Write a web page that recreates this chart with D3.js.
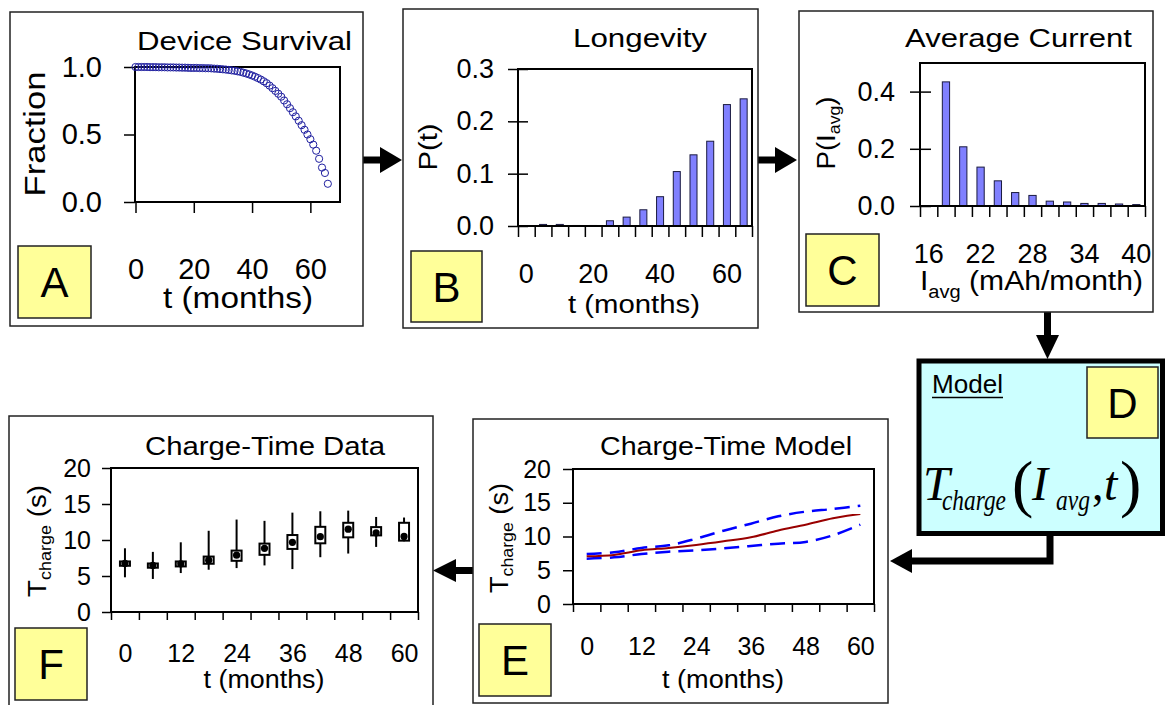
<!DOCTYPE html>
<html>
<head>
<meta charset="utf-8">
<script src="https://cdn.jsdelivr.net/npm/d3@7"></script>
<style>
body { margin: 0; background: #fff; }
</style>
</head>
<body>
<svg id="fig" width="1166" height="705"></svg>
<script>
// A - device survival
var survMonths = [0,1,2,3,4,5,6,7,8,9,10,11,12,13,14,15,16,17,18,19,20,21,22,23,24,25,26,27,28,29,30,31,32,33,
    34,35,36,37,38,39,40,41,42,43,44,45,46,47,48,49,50,51,52,53,54,55,56,57,58,59,60,61,62,63,64,65,66];
var survFraction = [1.000,1.000,1.000,1.000,1.000,0.999,0.999,0.999,0.998,0.998,
    0.998,0.997,0.997,0.997,0.996,0.996,0.995,0.995,0.994,0.993,
    0.993,0.993,0.992,0.992,0.991,0.991,0.990,0.988,0.987,0.985,
    0.983,0.981,0.978,0.975,0.972,0.968,0.964,0.958,0.952,0.945,
    0.937,0.928,0.918,0.907,0.894,0.880,0.862,0.843,0.823,0.802,
    0.780,0.752,0.724,0.695,0.665,0.634,0.602,0.569,0.535,0.500,
    0.465,0.425,0.380,0.320,0.255,0.215,0.135];
var survTicksX = [0, 20, 40, 60];
var survTicksY = [0, 0.5, 1];

// B - longevity
var lifeMonths = [0,5,10,15,20,25,30,35,40,45,50,55,60,65];
var lifeProb = [0,0.003,0.003,0.001,0.001,0.010,0.017,0.031,0.056,0.104,0.136,0.162,0.232,0.243];
var lifeTicksX = [0, 20, 40, 60];
var lifeTicksY = [0, 0.1, 0.2, 0.3];

// C - average current
var currBins = [16,18,20,22,24,26,28,30,32,34,36,38,40];
var currProb = [0,0.434,0.207,0.136,0.088,0.047,0.037,0.017,0.014,0.009,0.009,0.007,0.005];
var currTicksX = [16, 22, 28, 34, 40];
var currTicksY = [0, 0.2, 0.4];

// E - charge-time model
var modelMonths = [0,6,12,18,24,30,36,42,48,54,60];
var modelMean  = [7.06,7.26,7.95,8.30,8.74,9.28,9.88,10.90,11.75,12.70,13.33];
var modelUpper = [7.40,7.65,8.30,8.69,9.68,10.86,11.90,12.99,13.68,14.07,14.57];
var modelLower = [6.72,6.91,7.40,7.75,7.95,8.25,8.59,8.94,9.19,10.17,11.75];

// F - charge-time data
var dataMonths = [0,6,12,18,24,30,36,42,48,54,60];
var dataWhiskHi = [8.85,8.35,9.68,11.28,12.84,12.66,13.80,13.99,14.08,13.20,13.12];
var dataWhiskLo = [4.82,4.59,5.41,5.87,6.10,6.47,5.96,7.61,8.12,9.04,9.82];
var dataBoxHi  = [7.02,6.74,7.02,7.70,8.53,9.50,10.69,11.83,12.39,11.79,12.39];
var dataBoxLo  = [6.42,6.15,6.33,6.70,7.11,7.94,8.76,9.54,10.37,10.64,9.91];
var dataMean   = [6.74,6.47,6.70,7.20,7.89,8.85,9.68,10.46,11.51,11.00,10.50];
var tTicks = [0, 12, 24, 36, 48, 60];
var tYTicks = [0, 5, 10, 15, 20];

var svg = d3.select("#fig");
var font = "'Liberation Sans', Arial, Helvetica, sans-serif";
var serif = "'Liberation Serif', 'Times New Roman', Times, serif";
var barFill = "#8080ff";

function label(x, y, str, size, len, anchor, rotate) {
    var t = svg.append("text")
        .attr("font-family", font)
        .attr("font-size", size)
        .attr("fill", "#000")
        .attr("text-anchor", anchor || "start");
    if (rotate) {
        t.attr("transform", "translate(" + x + "," + y + ") rotate(-90)");
    } else {
        t.attr("x", x).attr("y", y);
    }
    if (len) {
        t.attr("textLength", len).attr("lengthAdjust", "spacingAndGlyphs");
    }
    if (str) t.text(str);
    return t;
}

function panelBox(x, y, w, h) {
    svg.append("rect")
        .attr("x", x).attr("y", y).attr("width", w).attr("height", h)
        .attr("fill", "#fff").attr("stroke", "#222").attr("stroke-width", 1.5);
}

function letterBox(x, y, w, h, letter) {
    svg.append("rect")
        .attr("x", x).attr("y", y).attr("width", w).attr("height", h)
        .attr("fill", "#ffff99").attr("stroke", "#222").attr("stroke-width", 1.5);
    label(x + w/2, y + h/2 + 15, letter, 42, null, "middle");
}

function frame(x0, y0, x1, y1) {
    svg.append("rect")
        .attr("x", x0).attr("y", y0).attr("width", x1 - x0).attr("height", y1 - y0)
        .attr("fill", "none").attr("stroke", "#000").attr("stroke-width", 2);
}

function fixAxis(g, size) {
    g.select(".domain").remove();
    g.selectAll(".tick line").attr("stroke", "#000").attr("stroke-width", 1.5);
    g.selectAll(".tick text")
        .attr("font-size", size)
        .attr("font-family", font)
        .attr("fill", "#000");
    return g;
}

function arrow(path, head) {
    svg.append("path")
        .attr("d", path)
        .attr("fill", "none").attr("stroke", "#000").attr("stroke-width", 7);
    svg.append("polygon")
        .attr("points", head)
        .attr("fill", "#000");
}

// ARROWS (under the boxes)
arrow("M362,160 H384", "380,147 380,173 402,160");
arrow("M757,160 H779", "775,147 775,173 797,160");
arrow("M1047.5,311 V337", "1036,335 1059,335 1047.5,359");
arrow("M1050,534 V561 H910", "912,549 912,573 890,561");
arrow("M474,570.5 H454", "456,559 456,582 433,570.5");

// ---------------- PANEL A ----------------
panelBox(10, 12, 353, 314);

var ax = d3.scaleLinear().domain([0, 70]).range([135.5, 339.5]);
var ay = d3.scaleLinear().domain([0, 1]).range([202, 67]);

frame(135, 67, 340, 202);

fixAxis(svg.append("g")
    .attr("transform", "translate(0,203)")
    .call(d3.axisBottom(ax).tickValues(survTicksX).tickSize(10).tickPadding(45)), 29);

fixAxis(svg.append("g")
    .attr("transform", "translate(135,0)")
    .call(d3.axisLeft(ay).tickValues(survTicksY).tickSize(11).tickPadding(22)
        .tickFormat(d3.format(".1f"))), 29);

svg.append("g").selectAll("circle")
    .data(survMonths)
    .enter()
    .append("circle")
    .attr("cx", function(d) { return ax(d); })
    .attr("cy", function(d, i) { return ay(survFraction[i]); })
    .attr("r", 3.6)
    .attr("fill", "none")
    .attr("stroke", "#2020a0")
    .attr("stroke-width", 1);

label(137, 50, "Device Survival", 25, 215);
label(45, 134, "Fraction", 29, 125, "middle", true);
label(238, 308, "t (months)", 29, 150, "middle");
letterBox(18, 246, 73, 72, "A");

// ---------------- PANEL B ----------------
panelBox(403, 9, 355, 319);

var bx = d3.scaleBand().domain(lifeMonths).range([518, 752]).paddingInner(0.58).paddingOuter(0.29);
var bxEdge = d3.scaleLinear().domain([0, lifeMonths.length]).range([518, 752]);
var by = d3.scaleLinear().domain([0, 0.3]).range([226, 69]);

svg.append("g").selectAll("rect")
    .data(lifeMonths)
    .enter()
    .append("rect")
    .attr("x", function(d) { return bx(d); })
    .attr("width", bx.bandwidth())
    .attr("y", function(d, i) { return by(lifeProb[i]); })
    .attr("height", function(d, i) { return by(0) - by(lifeProb[i]); })
    .attr("fill", barFill)
    .attr("stroke", "#1a1a40")
    .attr("stroke-width", 1);

frame(518, 69, 752, 226);

fixAxis(svg.append("g")
    .attr("transform", "translate(0,226)")
    .call(d3.axisBottom(bxEdge).tickValues(d3.range(lifeMonths.length + 1)).tickSize(11).tickFormat("")), 27);

fixAxis(svg.append("g")
    .attr("transform", "translate(0,226)")
    .call(d3.axisBottom(bx).tickValues(lifeTicksX).tickSize(0).tickPadding(38)), 27);

var bYAxis = fixAxis(svg.append("g")
    .attr("transform", "translate(518,0)")
    .call(d3.axisLeft(by).tickValues(lifeTicksY).tickSize(10).tickPadding(14)
        .tickFormat(d3.format(".1f"))), 27);
bYAxis.selectAll(".tick line").attr("x1", 10);

label(573, 47, "Longevity", 25, 134);
label(437, 147, "P(t)", 25, 47, "middle", true);
label(634, 313, "t (months)", 26, 132, "middle");
letterBox(411, 251, 71, 71, "B");

// ---------------- PANEL C ----------------
panelBox(799, 11, 354, 301);

var cx = d3.scaleBand().domain(currBins).range([920, 1145]).paddingInner(0.58).paddingOuter(0.29);
var cxEdge = d3.scaleLinear().domain([0, currBins.length]).range([920, 1145]);
var cy = d3.scaleLinear().domain([0, 0.5]).range([206, 63]);

svg.append("g").selectAll("rect")
    .data(currBins)
    .enter()
    .append("rect")
    .attr("x", function(d) { return cx(d); })
    .attr("width", cx.bandwidth())
    .attr("y", function(d, i) { return cy(currProb[i]); })
    .attr("height", function(d, i) { return cy(0) - cy(currProb[i]); })
    .attr("fill", barFill)
    .attr("stroke", "#1a1a40")
    .attr("stroke-width", 1);

frame(920, 63, 1145, 206);

fixAxis(svg.append("g")
    .attr("transform", "translate(0,206)")
    .call(d3.axisBottom(cxEdge).tickValues(d3.range(currBins.length + 1)).tickSize(11).tickFormat("")), 27);

fixAxis(svg.append("g")
    .attr("transform", "translate(0,206)")
    .call(d3.axisBottom(cx).tickValues(currTicksX).tickSize(0).tickPadding(38)), 27);

var cYAxis = fixAxis(svg.append("g")
    .attr("transform", "translate(920,0)")
    .call(d3.axisLeft(cy).tickValues(currTicksY).tickSize(10).tickPadding(15)
        .tickFormat(d3.format(".1f"))), 27);
cYAxis.selectAll(".tick line").attr("x1", 11);

label(905, 47, "Average Current", 25, 227);

var cyl = label(835, 133, null, 25, 73, "middle", true);
cyl.append("tspan").text("P(I");
cyl.append("tspan").attr("font-size", 16).attr("dy", 5).text("avg");
cyl.append("tspan").attr("dy", -5).text(")");

var cxl = label(920, 290, null, 27, 223, "start");
cxl.append("tspan").text("I");
cxl.append("tspan").attr("font-size", 18).attr("dy", 8).text("avg");
cxl.append("tspan").attr("dy", -8).text(" (mAh/month)");

letterBox(806, 234, 73, 72, "C");

// ---------------- PANEL D ----------------
svg.append("rect")
    .attr("x", 919).attr("y", 361).attr("width", 243.5).attr("height", 172.5)
    .attr("fill", "#ccffff").attr("stroke", "#000").attr("stroke-width", 5);

label(932, 393, "Model", 25, 71);
svg.append("line")
    .attr("x1", 932).attr("x2", 1003).attr("y1", 397.5).attr("y2", 397.5)
    .attr("stroke", "#000").attr("stroke-width", 1.5);

letterBox(1087, 367, 71, 71, "D");

function formula(x, y, str, size, len, italic) {
    var t = svg.append("text")
        .attr("x", x).attr("y", y)
        .attr("font-family", serif)
        .attr("font-size", size)
        .attr("font-style", italic ? "italic" : "normal")
        .attr("fill", "#000")
        .text(str);
    if (len) t.attr("textLength", len).attr("lengthAdjust", "spacingAndGlyphs");
}
formula(923, 500, "T", 48, null, true);
formula(942, 510, "charge", 30, 64, true);
formula(1012, 505, "(", 64, null, false);
formula(1032, 500, "I", 48, null, true);
formula(1056, 510, "avg", 30, 34, true);
formula(1092, 500, ",", 46, null, false);
formula(1104, 500, "t", 48, null, true);
formula(1120, 505, ")", 64, null, false);

// ---------------- PANEL E ----------------
panelBox(473, 419, 415, 284);

var ex = d3.scalePoint().domain(modelMonths).range([573, 874]).padding(0.5);
var exEdge = d3.scaleLinear().domain([0, modelMonths.length]).range([573, 874]);
var ey = d3.scaleLinear().domain([0, 20]).range([604, 469]);

frame(573, 469, 874, 604);

fixAxis(svg.append("g")
    .attr("transform", "translate(0,604)")
    .call(d3.axisBottom(exEdge).tickValues(d3.range(modelMonths.length + 1)).tickSize(8).tickFormat("")), 25);

fixAxis(svg.append("g")
    .attr("transform", "translate(0,604)")
    .call(d3.axisBottom(ex).tickValues(tTicks).tickSize(0).tickPadding(33)), 25);

fixAxis(svg.append("g")
    .attr("transform", "translate(573,0)")
    .call(d3.axisLeft(ey).tickValues(tYTicks).tickSize(10).tickPadding(12)), 25);

function modelLine(vals) {
    return d3.line()
        .x(function(d, i) { return ex(modelMonths[i]); })
        .y(function(d) { return ey(d); })
        .curve(d3.curveCatmullRom)(vals);
}

svg.append("path")
    .attr("d", modelLine(modelUpper))
    .attr("fill", "none").attr("stroke", "#0000ff")
    .attr("stroke-width", 2.5).attr("stroke-dasharray", "15,8");
svg.append("path")
    .attr("d", modelLine(modelLower))
    .attr("fill", "none").attr("stroke", "#0000ff")
    .attr("stroke-width", 2.5).attr("stroke-dasharray", "15,8");
svg.append("path")
    .attr("d", modelLine(modelMean))
    .attr("fill", "none").attr("stroke", "#990000")
    .attr("stroke-width", 2);

label(600, 455, "Charge-Time Model", 25, 252);
label(723, 688, "t (months)", 25, 122, "middle");

var eyl = label(508, 538, null, 26, 110, "middle", true);
eyl.append("tspan").text("T");
eyl.append("tspan").attr("font-size", 17).attr("dy", 5).text("charge");
eyl.append("tspan").attr("dy", -5).text(" (s)");

letterBox(479, 624, 72, 72, "E");

// ---------------- PANEL F ----------------
panelBox(9, 416, 424, 300);

var fx = d3.scalePoint().domain(dataMonths).range([111, 418]).padding(0.5);
var fxEdge = d3.scaleLinear().domain([0, dataMonths.length]).range([111, 418]);
var fy = d3.scaleLinear().domain([0, 20]).range([612, 468]);

frame(111, 468, 418, 612);

fixAxis(svg.append("g")
    .attr("transform", "translate(0,612)")
    .call(d3.axisBottom(fxEdge).tickValues(d3.range(dataMonths.length + 1)).tickSize(8).tickFormat("")), 25);

fixAxis(svg.append("g")
    .attr("transform", "translate(0,612)")
    .call(d3.axisBottom(fx).tickValues(tTicks).tickSize(0).tickPadding(32)), 25);

fixAxis(svg.append("g")
    .attr("transform", "translate(111,0)")
    .call(d3.axisLeft(fy).tickValues(tYTicks).tickSize(9).tickPadding(11)), 25);

var boxes = svg.append("g").selectAll("g")
    .data(dataMonths)
    .enter()
    .append("g");

boxes.append("line")
    .attr("x1", function(d) { return fx(d); })
    .attr("x2", function(d) { return fx(d); })
    .attr("y1", function(d, i) { return fy(dataWhiskHi[i]); })
    .attr("y2", function(d, i) { return fy(dataWhiskLo[i]); })
    .attr("stroke", "#000").attr("stroke-width", 2);

boxes.append("rect")
    .attr("x", function(d) { return fx(d) - 5; })
    .attr("width", 10)
    .attr("y", function(d, i) { return fy(dataBoxHi[i]); })
    .attr("height", function(d, i) { return fy(dataBoxLo[i]) - fy(dataBoxHi[i]); })
    .attr("fill", "#fff").attr("stroke", "#000").attr("stroke-width", 2);

boxes.append("circle")
    .attr("cx", function(d) { return fx(d); })
    .attr("cy", function(d, i) { return fy(dataMean[i]); })
    .attr("r", 3.6)
    .attr("fill", "#000");

label(145, 455, "Charge-Time Data", 25, 240);
label(264, 688, "t (months)", 25, 121, "middle");

var fyl = label(46, 541, null, 26, 112, "middle", true);
fyl.append("tspan").text("T");
fyl.append("tspan").attr("font-size", 17).attr("dy", 5).text("charge");
fyl.append("tspan").attr("dy", -5).text(" (s)");

letterBox(15, 628, 72, 72, "F");
</script>
</body>
</html>
